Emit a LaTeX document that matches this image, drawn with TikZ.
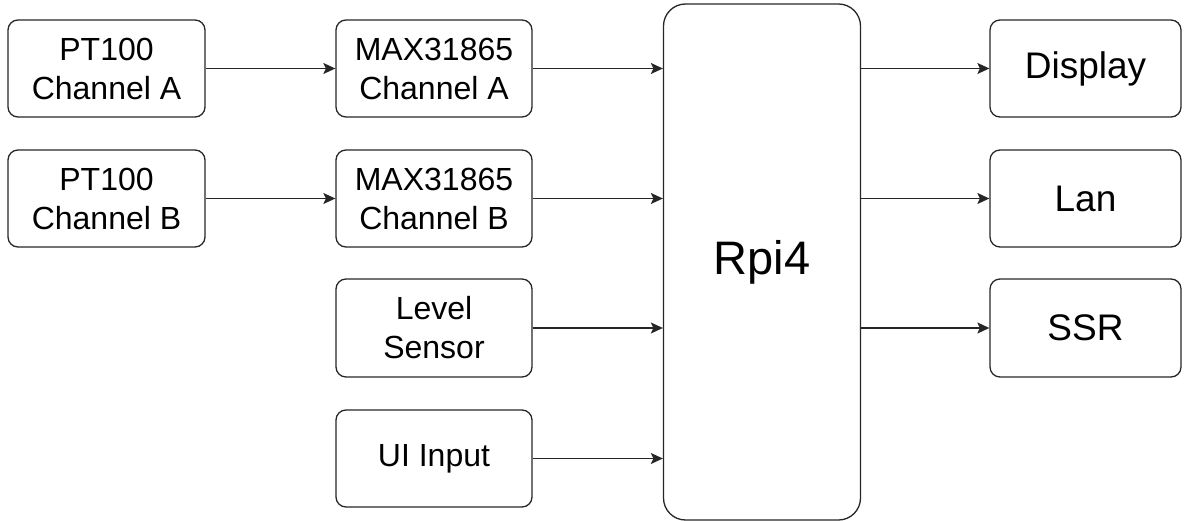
\documentclass[tikz,border=0pt]{standalone}
\usepackage{fontspec}
\setmainfont{Liberation Sans}
\usetikzlibrary{arrows.meta}
\tikzset{
  blk/.style={draw=black!85, rounded corners=10pt, line width=1.3pt, inner sep=0pt,
    align=center, minimum width=197pt, minimum height=97pt,
    font=\fontsize{32}{39}\selectfont},
  outblk/.style={blk, minimum width=191pt, font=\fontsize{37}{44}\selectfont},
  conn/.style={draw=black!85, line width=1.3pt, -{Stealth[length=12pt,width=11pt,inset=2.5pt]}}
}
\begin{document}
\begin{tikzpicture}[x=1pt,y=-1pt]
\useasboundingbox (0,0) rectangle (1185,521);
\node[blk] (ptA) at (106.5,68.5) {PT100\\Channel A};
\node[blk] (ptB) at (106.5,198.5) {PT100\\Channel B};
\node[blk, minimum width=196pt] (maxA) at (434,68.5) {MAX31865\\Channel A};
\node[blk, minimum width=196pt] (maxB) at (434,198.5) {MAX31865\\Channel B};
\node[blk, minimum width=196pt, minimum height=98pt] (lvl) at (434,328) {Level\\Sensor};
\node[blk, minimum width=196pt] (ui) at (434,458.5) {UI Input};
\node[blk, rounded corners=22pt, minimum width=197pt, minimum height=516pt,
      font=\fontsize{47}{56}\selectfont] (rpi) at (762,262) {Rpi4};
\node[outblk] (disp) at (1085.5,68.5) {Display};
\node[outblk] (lan) at (1085.5,198.5) {Lan};
\node[outblk, minimum height=98pt] (ssr) at (1085.5,328) {SSR};
\draw[conn] (ptA.east) -- (maxA.west);
\draw[conn] (ptB.east) -- (maxB.west);
\draw[conn] (maxA.east) -- (maxA.east -| rpi.west);
\draw[conn] (maxB.east) -- (maxB.east -| rpi.west);
\draw[conn] (lvl.east) -- (lvl.east -| rpi.west);
\draw[conn] (ui.east) -- (ui.east -| rpi.west);
\draw[conn] (disp.west -| rpi.east) -- (disp.west);
\draw[conn] (lan.west -| rpi.east) -- (lan.west);
\draw[conn] (ssr.west -| rpi.east) -- (ssr.west);
\end{tikzpicture}
\end{document}
